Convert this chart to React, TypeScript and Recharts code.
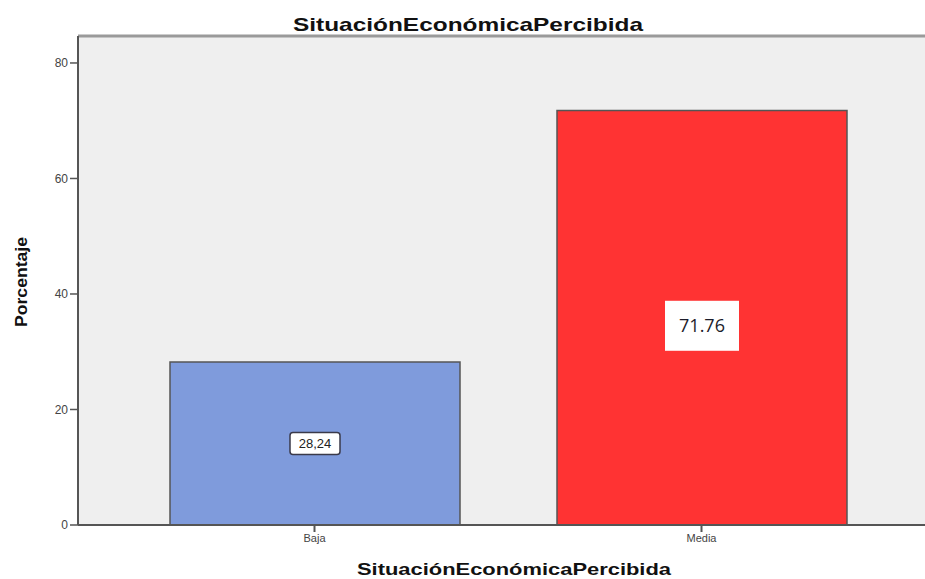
import React from "react";
import {
  BarChart,
  Bar,
  XAxis,
  YAxis,
  CartesianGrid,
  Cell,
  LabelList,
  ReferenceLine,
} from "recharts";

const categories = ["Baja", "Media"];
const percentages = [28.24, 71.76];
const valueLabels = ["28,24", "71.76"];
const barColors = ["#7f9bdc", "#ff3333"];
const yTicks = [0, 20, 40, 60, 80];

const Y_MAX = 84.67;

const data = categories.map((c, i) => ({
  name: c,
  value: percentages[i],
  label: valueLabels[i],
}));

const ValueBox = (props: any) => {
  const { x, y, width, height, index } = props;
  const cx = x + width / 2;
  const cy = y + height / 2;
  const text = valueLabels[index];
  if (index === 0) {
    return (
      <g>
        <rect
          x={cx - 25}
          y={cy - 11}
          width={50}
          height={22}
          rx={3}
          fill="#ffffff"
          stroke="#3a3a4a"
          strokeWidth={1.5}
        />
        <text
          x={cx}
          y={cy + 4.5}
          textAnchor="middle"
          fontFamily="Arial, 'Liberation Sans', sans-serif"
          fontSize={13}
          fill="#222"
        >
          {text}
        </text>
      </g>
    );
  }
  return (
    <g>
      <rect x={cx - 37} y={cy - 17} width={74} height={50} fill="#ffffff" />
      <text
        x={cx}
        y={cy + 14}
        textAnchor="middle"
        fontFamily="'Open Sans', 'DejaVu Sans', sans-serif"
        fontSize={18}
        fill="#1c1c2a"
      >
        {text}
      </text>
    </g>
  );
};

export default function App() {
  return (
    <div style={{ position: "absolute", left: 0, top: 0, width: 925, height: 579, background: "#fff" }}>
      <BarChart
        width={925}
        height={579}
        data={data}
        margin={{ top: 36, right: 0, left: 0, bottom: 24 }}
        barSize={290}
      >
        <CartesianGrid fill="#efefef" stroke="none" horizontal={false} vertical={false} />
        <XAxis
          dataKey="name"
          height={30}
          padding={{ left: 43, right: 30 }}
          axisLine={{ stroke: "#555", strokeWidth: 2 }}
          tickLine={{ stroke: "#555", strokeWidth: 2 }}
          tickSize={7}
          tick={{ fill: "#444", fontSize: 11, fontFamily: "Arial, 'Liberation Sans', sans-serif" }}
        />
        <YAxis
          width={78}
          domain={[0, Y_MAX]}
          ticks={yTicks}
          axisLine={{ stroke: "#555", strokeWidth: 2 }}
          tickLine={{ stroke: "#555", strokeWidth: 1.5 }}
          tickSize={8}
          tick={{ fill: "#444", fontSize: 12, fontFamily: "Arial, 'Liberation Sans', sans-serif" }}
        />
        <ReferenceLine y={Y_MAX} stroke="#9a9a9a" strokeWidth={3} />
        <Bar dataKey="value" stroke="#555" strokeWidth={1.5} isAnimationActive={false}>
          {data.map((d, i) => (
            <Cell key={d.name} fill={barColors[i]} />
          ))}
          <LabelList dataKey="label" content={ValueBox} />
        </Bar>
      </BarChart>
      <svg
        width={925}
        height={579}
        style={{ position: "absolute", left: 0, top: 0, pointerEvents: "none" }}
      >
        <text
          x={468}
          y={31}
          textAnchor="middle"
          fontFamily="Arial, 'Liberation Sans', sans-serif"
          fontWeight="bold"
          fontSize={19}
          fill="#111"
          textLength={350}
          lengthAdjust="spacingAndGlyphs"
        >
          SituaciónEconómicaPercibida
        </text>
        <text
          x={514}
          y={575}
          textAnchor="middle"
          fontFamily="Arial, 'Liberation Sans', sans-serif"
          fontWeight="bold"
          fontSize={17}
          fill="#111"
          textLength={314}
          lengthAdjust="spacingAndGlyphs"
        >
          SituaciónEconómicaPercibida
        </text>
        <text
          x={27}
          y={282}
          transform="rotate(-90 27 282)"
          textAnchor="middle"
          fontFamily="'Liberation Sans Narrow', Arial, sans-serif"
          fontWeight="bold"
          fontSize={16}
          fill="#111"
          textLength={90}
          lengthAdjust="spacingAndGlyphs"
        >
          Porcentaje
        </text>
      </svg>
    </div>
  );
}
